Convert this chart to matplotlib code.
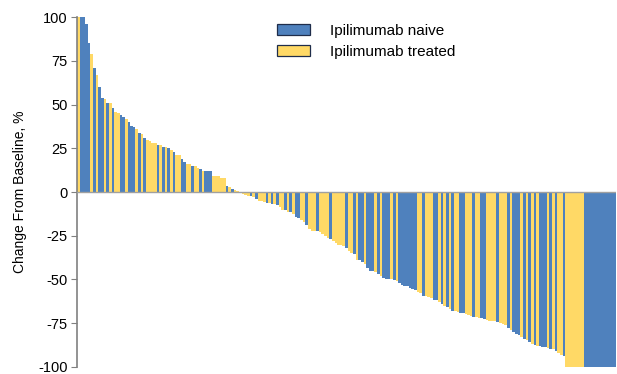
import matplotlib
matplotlib.use("Agg")
import matplotlib.pyplot as plt
from matplotlib.patches import Patch

plt.rcParams['font.family'] = ['Liberation Sans', 'DejaVu Sans']
plt.rcParams['axes.unicode_minus'] = False

# best % change from baseline per patient, sorted; N = ipilimumab naive, T = ipilimumab treated
change = [
    100, 100, 100, 96, 85, 79, 71, 67, 60, 54, 53, 51, 51, 48, 46, 45, 44, 43, 42,
    40, 38, 37, 36, 34, 33, 31, 30, 29, 28, 28, 27, 27, 26, 25.5, 25, 24, 23, 21, 21,
    19, 17, 16, 16, 15, 15, 14, 13, 12, 12, 12, 12, 9, 9, 9, 8, 8, 3.5, 3, 2,
    1, 0.5, -0.5, -1, -1.5, -2, -2.5, -3, -4, -5, -5, -5.5, -6, -6, -7, -7, -7.5,
    -8.5, -10, -10.5, -11.5, -11.5, -12.5, -14, -15, -16, -17, -19, -21, -22, -22,
    -22.5, -23, -24, -25, -26, -27, -28, -29, -30, -30, -31, -32, -34, -35, -35.5,
    -39, -39, -40, -41, -43.5, -45, -45, -46, -47, -48, -49, -49.5, -50, -50, -50.5,
    -51, -52, -53, -53.5, -54, -55, -55.5, -56, -57, -58, -59.5, -59.5, -60, -60.6,
    -62, -62, -63, -64, -65, -66, -67, -68, -68, -68.5, -69, -69, -70, -70.5, -71,
    -71.5, -71.5, -72, -72, -72.5, -73, -73.5, -74, -74, -74.5, -75, -75.5, -76,
    -78, -79, -80, -81, -82, -83, -84, -84.5, -86, -87, -87.5, -88, -88, -88.5,
    -88.5, -89, -89.5, -90, -91, -92, -93, -94,
    -100, -100, -100, -100, -100, -100, -100,
    -100, -100, -100, -100, -100, -100, -100, -100, -100, -100, -100, -100,
]
group = (
    "T" + "NN" + "NN" + "T" + "N" + "T" + "NN" + "T" + "N" + "T" + "N" + "TT" + "NN" + "T"
    + "NNN" + "T" + "N" + "T" + "N" + "TTTT" + "N" + "T" + "N" + "T" + "N" + "T" + "N"
    + "TT" + "NN" + "TT" + "N" + "TT" + "N" + "T" + "NNN" + "TTTTT" + "N" + "T" + "N"
    + "TTTTTT" + "N" + "T" + "N" + "TTT" + "N" + "T" + "N" + "T" + "N"
    + "TT" + "N" + "T" + "N" + "T" + "NN" + "TT" + "N" + "TTT"
    + "N" + "TTTT" + "N" + "TTTTT" + "N" + "T" + "T" + "N"
    + "T" + "NN" + "T" + "NNN" + "T" + "N" + "T" + "NNN" + "T" + "N"
    + "T" + "NNNNNNN" + "TT" + "N" + "TTT"
    + "NN" + "T" + "N" + "T" + "N" + "T" + "N" + "TT" + "NN" + "TTT"
    + "N" + "TT" + "NN" + "TTTT" + "N" + "TTT"
    + "N" + "T" + "NNN" + "T" + "N" + "T" + "N" + "T" + "N" + "T" + "NNN"
    + "T" + "N" + "T" + "N" + "TT" + "N"
    + "TTTTTTT" + "NNNNNNNNNNNN"
)

colors = {"N": "#4F81BD", "T": "#FFD966"}
labels = {"N": "Ipilimumab naive", "T": "Ipilimumab treated"}

n = min(len(change), len(group))
x = list(range(n))
bar_colors = [colors[g] for g in group[:n]]

fig = plt.figure(figsize=(6.17, 3.74), dpi=100)
ax = fig.add_axes([0.125, 0.019, 0.873, 0.935])

ax.bar(x, change[:n], width=1.0, color=bar_colors, linewidth=0)
ax.axhline(0, color="#a0a0a0", linewidth=1.0, zorder=3)

ax.set_xlim(-0.5, n - 0.5)
ax.set_ylim(-100, 100)
ax.set_yticks([100, 75, 50, 25, 0, -25, -50, -75, -100])
ax.set_xticks([])
for side in ["top", "right", "bottom"]:
    ax.spines[side].set_visible(False)
ax.spines["left"].set_color("#808080")
ax.spines["left"].set_linewidth(1.2)
ax.tick_params(axis="y", direction="out", length=4, color="#808080",
               labelsize=10.5, pad=3)
ax.set_ylabel("Change From Baseline, %", fontsize=10, labelpad=8)

handles = [Patch(facecolor=colors[k], edgecolor="#1f2d4a", linewidth=0.9, label=labels[k])
           for k in ["N", "T"]]
ax.legend(handles=handles, loc="upper left", bbox_to_anchor=(0.345, 1.02), frameon=False,
          fontsize=11, handlelength=2.2, handleheight=0.75, handletextpad=1.3,
          labelspacing=0.45)

fig.savefig("out.png", dpi=100)
